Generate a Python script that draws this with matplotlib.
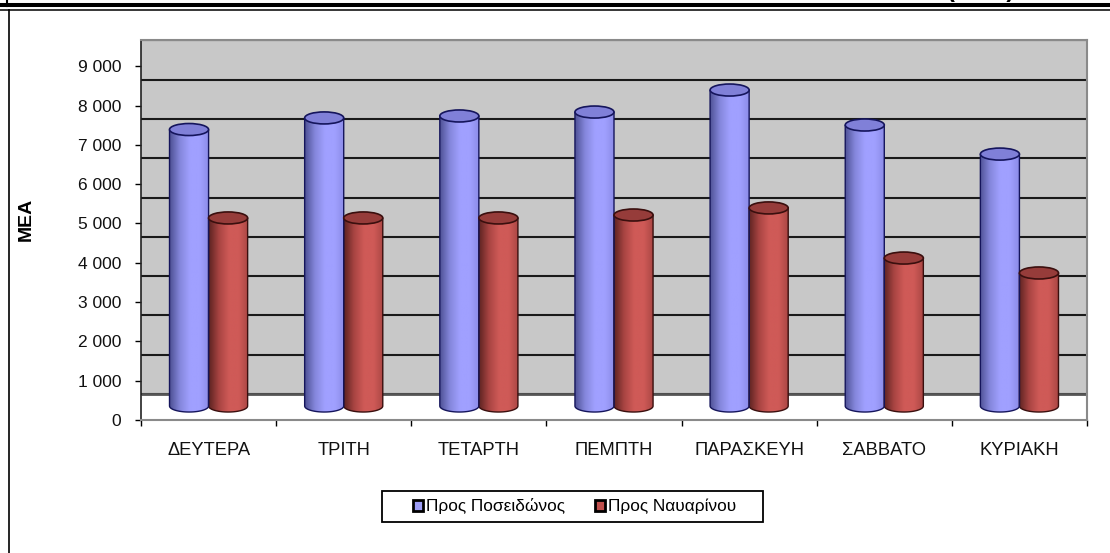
import numpy as np
import matplotlib
matplotlib.use("Agg")
import matplotlib.pyplot as plt
from matplotlib.lines import Line2D
from matplotlib.patches import Ellipse, Patch, PathPatch, Rectangle
from matplotlib.path import Path
from matplotlib.colors import LinearSegmentedColormap

plt.rcParams['font.family'] = ['Liberation Sans', 'DejaVu Sans']

days = ['ΔΕΥΤΕΡΑ', 'ΤΡΙΤΗ', 'ΤΕΤΑΡΤΗ', 'ΠΕΜΠΤΗ', 'ΠΑΡΑΣΚΕΥΗ', 'ΣΑΒΒΑΤΟ', 'ΚΥΡΙΑΚΗ']
poseidonos = [7035, 7330, 7380, 7480, 8040, 7150, 6410]
navarinou = [4785, 4785, 4785, 4860, 5040, 3765, 3385]
yticks = [0, 1000, 2000, 3000, 4000, 5000, 6000, 7000, 8000, 9000]
ylabels = ['0', '1 000', '2 000', '3 000', '4 000', '5 000', '6 000', '7 000', '8 000', '9 000']

W, H = 1110, 553
wall_shift = 660   # the back wall sits higher than the axis (fake 3D)
bar_shift = 356
bar_w = 0.289
cap_h = 153        # half height of the cylinder caps, in y units

fig = plt.figure(figsize=(W / 100, H / 100), dpi=100)
ax = fig.add_axes([141 / W, 1 - 420 / H, 946 / W, 380 / H])
ax.set_xlim(-0.5, 6.5)
ax.set_ylim(0, 9669)

# back wall and gridlines
ax.axhspan(wall_shift, 9669, color='#c8c8c8', lw=0, zorder=0)
ax.hlines([t + wall_shift for t in yticks], -0.5, 6.5, colors='#1a1a1a', lw=1.5, zorder=1)
ax.hlines(wall_shift, -0.5, 6.5, colors='#555555', lw=2, zorder=1)


def cylinder(xc, value, cmap, top_col, edge_col):
    x0, x1 = xc - bar_w / 2, xc + bar_w / 2
    y0, y1 = bar_shift, bar_shift + value
    t = np.linspace(np.pi, 2 * np.pi, 40)
    bx = xc + bar_w / 2 * np.cos(t)
    by = y0 + cap_h * np.sin(t)
    verts = [(x0, y1)] + list(zip(bx, by)) + [(x1, y1), (x0, y1)]
    side = PathPatch(Path(verts), fc='none', ec=edge_col, lw=1.0, zorder=4)
    ax.add_patch(side)
    grad = np.linspace(0, 1, 128).reshape(1, -1)
    im = ax.imshow(grad, extent=[x0, x1, y0 - cap_h, y1], aspect='auto', cmap=cmap, zorder=3)
    clip = PathPatch(Path(verts), transform=ax.transData)
    im.set_clip_path(clip)
    ax.add_patch(Ellipse((xc, y1), bar_w, 2 * cap_h, fc=top_col, ec=edge_col, lw=1.2, zorder=5))


blue_map = LinearSegmentedColormap.from_list('b', ['#4f5296', '#8587dc', '#a0a0ff', '#a0a0ff', '#8a8ae6'])
red_map = LinearSegmentedColormap.from_list('r', ['#5e2422', '#a84442', '#cf5a57', '#cf5a57', '#a84543'])

for i in range(len(days)):
    cylinder(i + bar_w / 2, navarinou[i], red_map, '#963c3a', '#3a0f0e')
    cylinder(i - bar_w / 2, poseidonos[i], blue_map, '#8080d8', '#15155c')

ax.set_xlim(-0.5, 6.5)
ax.set_ylim(0, 9669)

# axes
ax.set_yticks(yticks)
ax.set_yticklabels(ylabels, fontsize=12.5, color='#111111')
ax.set_xticks(np.arange(-0.5, 7))
ax.set_xticklabels([])
ax.set_xticks(np.arange(7), minor=True)
ax.set_xticklabels(days, minor=True, fontsize=13.2, color='#111111')
ax.tick_params(axis='y', length=4.3, width=1, pad=10)
ax.tick_params(axis='x', which='major', length=4, width=1)
ax.tick_params(axis='x', which='minor', length=0, pad=16)
for s in ['top', 'right', 'bottom']:
    ax.spines[s].set_color('#8a8a8a')
    ax.spines[s].set_linewidth(1.5)
ax.spines['left'].set_color('#222222')
ax.spines['left'].set_linewidth(1.2)

fig.text(26 / W, 1 - 219 / H, 'ΜΕΑ', rotation=90, ha='center', va='center',
         fontsize=14, fontweight='bold')

# legend frame is its own box, the report's one is wider than the entries
fig.add_artist(Rectangle((382 / W, 1 - 522 / H), 381 / W, 31 / H, transform=fig.transFigure,
                         fc='white', ec='black', lw=1.3))
handles = [Patch(fc='#9c9cf5', ec='black', lw=2), Patch(fc='#c0504d', ec='black', lw=2)]
leg = fig.legend(handles, ['Προς Ποσειδώνος', 'Προς Ναυαρίνου'], ncol=2, loc='center',
                 bbox_to_anchor=(575 / W, 1 - 506.5 / H), fontsize=12.4, frameon=False,
                 handlelength=0.55, handleheight=0.55, handletextpad=0.2,
                 columnspacing=1.75, borderpad=0, borderaxespad=0)

# page frame left over from the report
fig.add_artist(Line2D([0, 1], [1 - 5.3 / H] * 2, color='black', lw=2.9))
fig.add_artist(Line2D([0, 1], [1 - 9.8 / H] * 2, color='black', lw=1.1))
fig.add_artist(Line2D([6.5 / W] * 2, [1, 1 - 6 / H], color='black', lw=1.5))
fig.add_artist(Line2D([9.3 / W] * 2, [0, 1 - 10 / H], color='black', lw=1.2))
fig.text(981 / W, 1 + 3 / H, '(ΜΕΑ)', ha='center', va='baseline', fontsize=17, fontweight='bold')

fig.savefig('out.png', dpi=100)
